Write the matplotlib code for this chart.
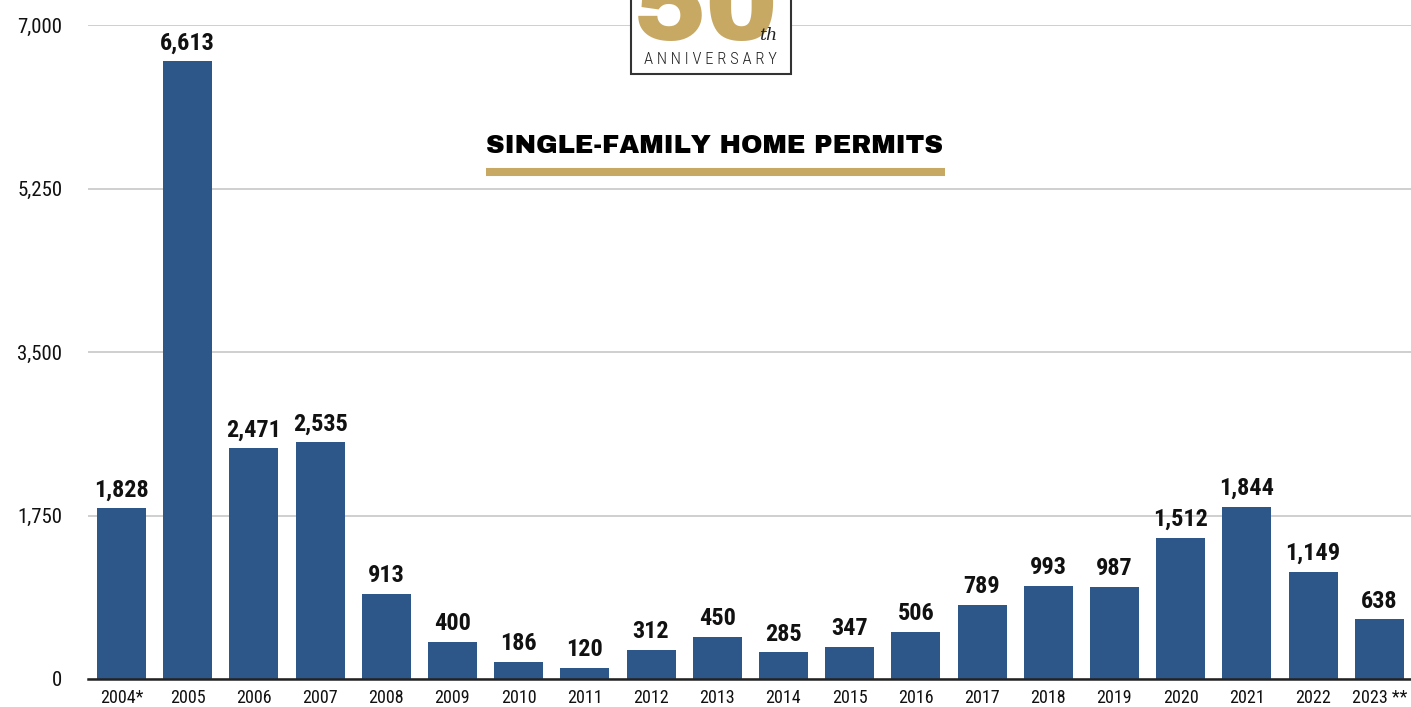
import matplotlib
matplotlib.use("Agg")
import matplotlib.pyplot as plt
from matplotlib.patches import Rectangle
from matplotlib.lines import Line2D

years = ["2004*", "2005", "2006", "2007", "2008", "2009", "2010", "2011", "2012", "2013",
         "2014", "2015", "2016", "2017", "2018", "2019", "2020", "2021", "2022", "2023 **"]
permits = [1828, 6613, 2471, 2535, 913, 400, 186, 120, 312, 450,
           285, 347, 506, 789, 993, 987, 1512, 1844, 1149, 638]
yticks = [0, 1750, 3500, 5250, 7000]
title = "SINGLE-FAMILY HOME PERMITS"

COND = ["Roboto Condensed", "DejaVu Sans"]
plt.rcParams['font.family'] = COND

BAR = "#2d5788"
GOLD = "#c8a964"
W, H = 1411, 707

fig = plt.figure(figsize=(W / 100, H / 100), dpi=100)
ax = fig.add_axes([88 / W, 28 / H, 1 - 88 / W, 654 / H])
x = list(range(len(years)))
ax.bar(x, permits, width=0.74, color=BAR, zorder=3)
ax.set_xlim(-0.505, 19.48)
ax.set_ylim(0, 7000)
ax.set_yticks(yticks)
ax.set_yticklabels([f"{v:,}" for v in yticks], fontsize=15, color="#111111")
ax.set_xticks(x)
ax.set_xticklabels(years, fontsize=13, color="#111111")
ax.tick_params(axis='both', length=0)
ax.tick_params(axis='y', pad=18.5)
ax.tick_params(axis='x', pad=7)
ax.grid(axis='y', color="#cccccc", linewidth=1.3, zorder=0)
for s in ["top", "right", "left"]:
    ax.spines[s].set_visible(False)
ax.spines["bottom"].set_color("#222222")
ax.spines["bottom"].set_linewidth(1.8)
ax.spines["bottom"].set_zorder(4)

for xi, v in zip(x, permits):
    ax.annotate(f"{v:,}", (xi, v), xytext=(0, 8.5), textcoords="offset points",
                ha="center", va="baseline", fontsize=17.5, fontweight="bold", color="#111111")

# Title with gold underline
fig.text(714.5 / W, 1 - 153 / H, title, ha="center", va="baseline", fontsize=18.6,
         family=["Archivo Black", "DejaVu Sans"], color="#000000")
fig.add_artist(Line2D([486 / W, 945 / W], [1 - 171.7 / H, 1 - 171.7 / H],
                      color=GOLD, linewidth=5.8, solid_capstyle="butt"))

# Anniversary logo (partly cut at top)
fig.add_artist(Rectangle((631 / W, 1 - 74 / H), 160 / W, 90 / H, transform=fig.transFigure,
                         facecolor="white", edgecolor="#333333", linewidth=1.5, zorder=5))
fig.text(706 / W, 1 - 40 / H, "50", ha="center", va="baseline", fontsize=78,
         color=GOLD, family=["Archivo Black", "DejaVu Sans"], zorder=6)
fig.text(768 / W, 1 - 40 / H, "th", ha="center", va="baseline", fontsize=12.5,
         fontstyle="italic", color="#222222", family=["DejaVu Serif"], zorder=7)
fig.text(710 / W, 1 - 64.5 / H, " ".join("ANNIVERSARY"), ha="center", va="baseline",
         fontsize=12, fontweight="light", color="#222222", zorder=7)

fig.savefig("out.png", dpi=100)
